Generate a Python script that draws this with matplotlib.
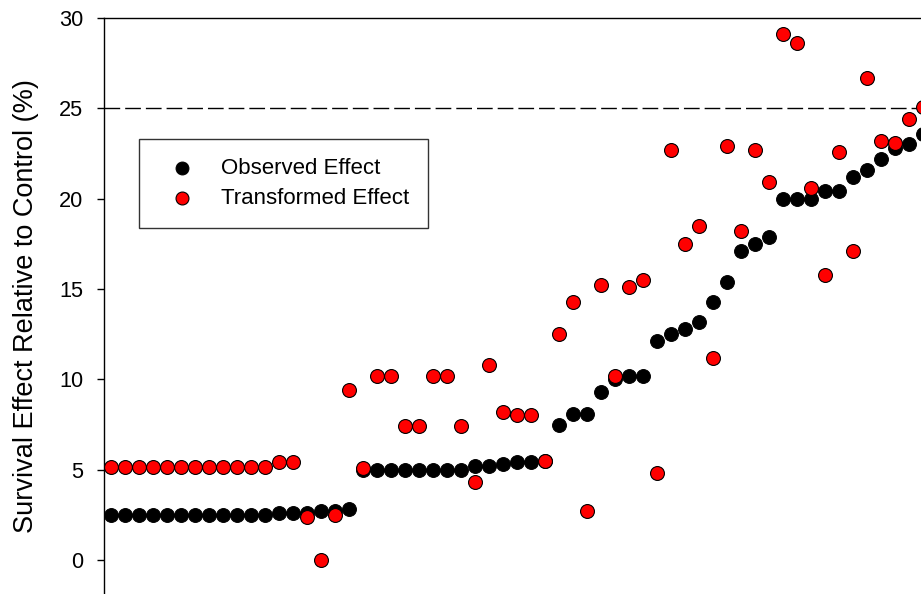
import numpy as np
import matplotlib.pyplot as plt

plt.rcParams['font.family'] = ['Liberation Sans', 'DejaVu Sans']

# Data, one value per study, sorted by observed effect
observed = [2.5, 2.5, 2.5, 2.5, 2.5, 2.5, 2.5, 2.5, 2.5, 2.5,
            2.5, 2.5, 2.6, 2.6, 2.6, 2.7, 2.7, 2.8, 5.0, 5.0,
            5.0, 5.0, 5.0, 5.0, 5.0, 5.0, 5.2, 5.2, 5.3, 5.4,
            5.4, 5.5, 7.5, 8.1, 8.1, 9.3, 10.0, 10.2, 10.2, 12.1,
            12.5, 12.8, 13.2, 14.3, 15.4, 17.1, 17.5, 17.9, 20.0, 20.0,
            20.0, 20.4, 20.4, 21.2, 21.6, 22.2, 22.8, 23.0, 23.6]
transformed = [5.15, 5.15, 5.15, 5.15, 5.15, 5.15, 5.15, 5.15, 5.15, 5.15,
               5.15, 5.15, 5.4, 5.4, 2.4, 0.0, 2.5, 9.4, 5.1, 10.2,
               10.2, 7.4, 7.4, 10.2, 10.2, 7.4, 4.3, 10.8, 8.2, 8.0,
               8.0, 5.5, 12.5, 14.3, 2.7, 15.2, 10.2, 15.1, 15.5, 4.8,
               22.7, 17.5, 18.5, 11.2, 22.9, 18.2, 22.7, 20.9, 29.1, 28.6,
               20.6, 15.8, 22.6, 17.1, 26.7, 23.2, 23.1, 24.4, 25.1]
threshold = 25

x = np.arange(len(observed))

fig = plt.figure(figsize=(9.21, 5.94), dpi=100)
ax = fig.add_axes([104 / 921, 0, 817 / 921, 1 - 18 / 594])

ax.scatter(x, observed, s=100, color='black', edgecolors='black',
           linewidths=0.7, label='Observed Effect', zorder=3)
ax.scatter(x, transformed, s=100, color='red', edgecolors='black',
           linewidths=0.8, label='Transformed Effect', zorder=4)
ax.axhline(threshold, color='black', linestyle=(0, (11.3, 3.6)), linewidth=1, zorder=2)

ax.set_xlim(-0.5, 57.86)
ax.set_ylim(-1.88, 30)
ax.set_yticks(range(0, 31, 5))
ax.set_xticks([])
ax.tick_params(axis='y', direction='out', length=5.4, width=1, labelsize=15.7, pad=9.4)
ax.set_ylabel('Survival Effect Relative to Control (%)', fontsize=19.5)
ax.yaxis.set_label_coords((39 - 104) / 817, 0.5)
for side in ['bottom', 'right']:
    ax.spines[side].set_visible(False)
for side in ['left', 'top']:
    ax.spines[side].set_linewidth(1)

leg = ax.legend(loc='upper left', bbox_to_anchor=(139 / 921, 1 - 139 / 594),
                bbox_transform=fig.transFigure, fontsize=16, frameon=True,
                fancybox=False, edgecolor='black', borderpad=0.85,
                handlelength=2.2, handletextpad=0.62, labelspacing=0.42,
                borderaxespad=0, markerscale=0.93)
leg.get_frame().set_linewidth(1)

fig.savefig('out.png', dpi=100)
